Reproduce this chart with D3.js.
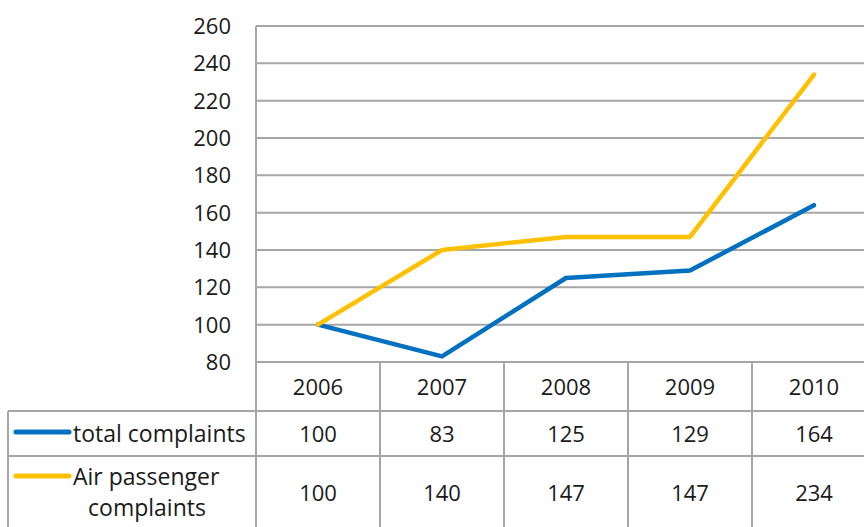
<!DOCTYPE html>
<html>
<head>
<meta charset="utf-8">
<script src="https://cdn.jsdelivr.net/npm/d3@7"></script>
<style>
  body { margin: 0; background: #fff; }
  svg text { font-family: "Open Sans", sans-serif; fill: #1a1a1a; }
</style>
</head>
<body>
<div id="chart"></div>
<script>
// data
var years = ["2006", "2007", "2008", "2009", "2010"];
var totalComplaints = [100, 83, 125, 129, 164];
var airComplaints = [100, 140, 147, 147, 234];
var yTicks = [80, 100, 120, 140, 160, 180, 200, 220, 240, 260];

var seriesNames = [["total complaints"], ["Air passenger", "complaints"]];
var seriesColors = ["#0070c0", "#ffc000"];

var svgwidth = 864, svgheight = 527;
var margin = {top: 26, left: 256},
    plotRight = 876,
    plotBottom = 362;

var grid = "#a6a6a6";

var svg = d3.select("#chart").append("svg")
    .attr("width", svgwidth)
    .attr("height", svgheight);

var x = d3.scaleBand()
    .domain(years)
    .range([margin.left, plotRight]);

var y = d3.scaleLinear()
    .domain([80, 260])
    .range([plotBottom, margin.top]);

// horizontal gridlines
svg.append("g")
    .selectAll("line")
    .data(yTicks)
  .enter().append("line")
    .attr("x1", margin.left)
    .attr("x2", plotRight)
    .attr("y1", d => y(d))
    .attr("y2", d => y(d))
    .attr("stroke", grid)
    .attr("stroke-width", 2);

// y labels
svg.append("g")
    .selectAll("text")
    .data(yTicks)
  .enter().append("text")
    .attr("x", 231)
    .attr("y", d => y(d))
    .attr("dy", "0.36em")
    .attr("text-anchor", "end")
    .style("font-size", "22px")
    .text(d => d);

// data table
var rowTop = [plotBottom, 411, 456, 545];
var tableLeft = 8;

// left axis line down through table
svg.append("line")
    .attr("x1", margin.left).attr("x2", margin.left)
    .attr("y1", margin.top).attr("y2", svgheight)
    .attr("stroke", grid).attr("stroke-width", 2);

// category separators
svg.append("g")
    .selectAll("line")
    .data(years.slice(1))
  .enter().append("line")
    .attr("x1", d => x(d)).attr("x2", d => x(d))
    .attr("y1", plotBottom).attr("y2", svgheight)
    .attr("stroke", grid).attr("stroke-width", 2);

// row lines
svg.append("g")
    .selectAll("line")
    .data([rowTop[1], rowTop[2]])
  .enter().append("line")
    .attr("x1", tableLeft).attr("x2", plotRight)
    .attr("y1", d => d).attr("y2", d => d)
    .attr("stroke", grid).attr("stroke-width", 2);

svg.append("line")
    .attr("x1", tableLeft).attr("x2", tableLeft)
    .attr("y1", rowTop[1]).attr("y2", svgheight)
    .attr("stroke", grid).attr("stroke-width", 2);

// year header
svg.append("g")
    .selectAll("text")
    .data(years)
  .enter().append("text")
    .attr("x", d => x(d) + x.bandwidth() / 2)
    .attr("y", (rowTop[0] + rowTop[1]) / 2 + 1)
    .attr("dy", "0.36em")
    .attr("text-anchor", "middle")
    .style("font-size", "22px")
    .text(d => d);

var rows = [totalComplaints, airComplaints];
var rowMid = [434, 493];

rows.forEach(function(vals, i) {
    svg.append("g")
        .selectAll("text")
        .data(vals)
      .enter().append("text")
        .attr("x", (d, j) => x(years[j]) + x.bandwidth() / 2)
        .attr("y", rowMid[i])
        .attr("dy", "0.36em")
        .attr("text-anchor", "middle")
        .style("font-size", "22px")
        .text(d => d);

    // legend key
    var ky = i === 0 ? 432 : 476;
    svg.append("line")
        .attr("x1", 16).attr("x2", 69)
        .attr("y1", ky).attr("y2", ky)
        .attr("stroke", seriesColors[i])
        .attr("stroke-width", 5)
        .attr("stroke-linecap", "round");

    var names = seriesNames[i];
    names.forEach(function(n, k) {
        svg.append("text")
            .attr("x", k === 0 ? 73 : 147)
            .attr("y", i === 0 ? 434 : 477 + k * 31)
            .attr("dy", "0.36em")
            .attr("text-anchor", k === 0 ? "start" : "middle")
            .style("font-size", "23px")
            .text(n);
    });
});

// lines
var line = d3.line()
    .x((d, j) => x(years[j]) + x.bandwidth() / 2)
    .y(d => y(d));

[totalComplaints, airComplaints].forEach(function(vals, i) {
    svg.append("path")
        .datum(vals)
        .attr("d", line)
        .attr("fill", "none")
        .attr("stroke", seriesColors[i])
        .attr("stroke-width", 4.5)
        .attr("stroke-linejoin", "round")
        .attr("stroke-linecap", "round");
});
</script>
</body>
</html>
